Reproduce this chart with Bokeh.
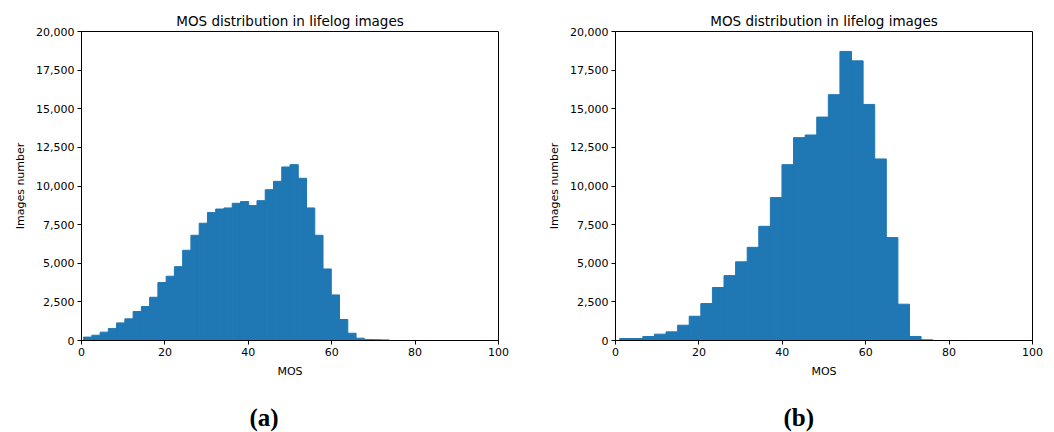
import numpy as np
from bokeh.plotting import figure
from bokeh.layouts import row
from bokeh.models import FixedTicker, NumeralTickFormatter, Title, ColumnDataSource
from bokeh.embed import file_html
from bokeh.resources import INLINE

# ---- data ----
title_text = "MOS distribution in lifelog images"
x_label = "MOS"
y_label = "Images number"
captions = ["(a)", "(b)"]

a_counts = [220, 340, 540, 780, 1140, 1400, 1875, 2200, 2800, 3750,
            4160, 4780, 5840, 6810, 7590, 8280, 8510, 8580, 8880, 8990,
            8730, 9050, 9760, 10300, 11230, 11380, 10500, 8580, 6810, 4630,
            2950, 1360, 470, 150, 60, 50, 40]
a_range = (0.5, 73.76)

b_counts = [130, 130, 260, 410, 560, 990, 1570, 2390, 3430, 4200,
            5090, 6030, 7390, 9250, 11380, 13130, 13300, 14460, 15910, 18710,
            18100, 15280, 11750, 6660, 2350, 260, 45]
b_range = (1.0, 76.06)

x_ticks = [0, 20, 40, 60, 80, 100]
y_ticks = [0, 2500, 5000, 7500, 10000, 12500, 15000, 17500, 20000]

BAR = "#1f77b4"
FONT = "DejaVu Sans"


def make_panel(counts, rng, caption, border_left, border_right):
    edges = np.linspace(rng[0], rng[1], len(counts) + 1)
    src = ColumnDataSource(dict(left=edges[:-1], right=edges[1:],
                                top=counts, bottom=[0] * len(counts)))
    p = figure(frame_width=417, frame_height=309, x_range=(0, 100), y_range=(0, 20000),
               output_backend="svg", toolbar_location=None,
               min_border_left=border_left, min_border_right=border_right,
               min_border_top=31, min_border_bottom=92, title=title_text)
    p.quad(left="left", right="right", top="top", bottom="bottom", source=src,
           fill_color=BAR, line_color=BAR, line_width=1)
    p.grid.visible = False
    p.outline_line_color = "black"
    p.outline_line_width = 1
    p.outline_line_alpha = 1
    p.background_fill_color = "white"
    p.border_fill_color = "white"

    p.title.text_font = FONT
    p.title.text_font_size = "13.5px"
    p.title.text_font_style = "normal"
    p.title.align = "center"
    p.title.text_color = "black"
    p.title.standoff = 6

    for ax in (p.xaxis[0], p.yaxis[0]):
        ax.major_label_text_font = FONT
        ax.major_label_text_font_size = "11px"
        ax.major_label_text_color = "black"
        ax.axis_label_text_font = FONT
        ax.axis_label_text_font_size = "11px"
        ax.axis_label_text_font_style = "normal"
        ax.axis_label_text_color = "black"
        ax.axis_line_color = "black"
        ax.major_tick_line_color = "black"
        ax.major_tick_out = 4
        ax.major_tick_in = 0
        ax.minor_tick_line_color = None
        ax.major_label_standoff = 3
    p.xaxis.ticker = FixedTicker(ticks=x_ticks)
    p.yaxis.ticker = FixedTicker(ticks=y_ticks)
    p.yaxis.formatter = NumeralTickFormatter(format="0,0")
    p.xaxis.axis_label = x_label
    p.yaxis.axis_label = y_label
    p.xaxis.axis_label_standoff = 6
    p.yaxis.axis_label_standoff = 6

    cap = Title(text=caption, align="left", offset=168, standoff=42,
                text_font="Liberation Serif", text_font_size="25px",
                text_font_style="bold", text_color="black")
    p.add_layout(cap, "below")
    return p


p1 = make_panel(a_counts, a_range, captions[0], 81, 47)
p2 = make_panel(b_counts, b_range, captions[1], 70, 12)
layout = row(p1, p2)
layout.spacing = 0

open("out.html", "w").write(file_html(layout, INLINE))
